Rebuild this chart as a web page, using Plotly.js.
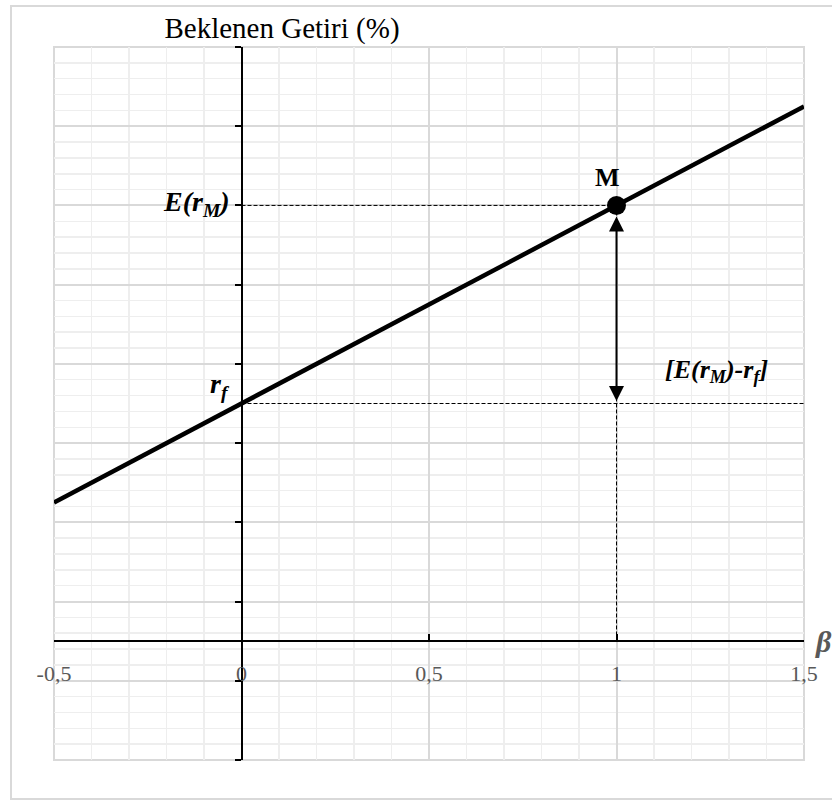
<!DOCTYPE html>
<html>
<head>
<meta charset="utf-8">
<script src="https://cdn.plot.ly/plotly-3.0.1.min.js"></script>
<style>
  html, body { margin: 0; padding: 0; background: #fff; }
  #plot { width: 832px; height: 801px; }
</style>
</head>
<body>
<div id="plot"></div>
<script>
// values
const betaRange = [-0.5, 1.5];
const returnRange = [-1.5, 7.5];
const betaTicks = [-0.5, 0, 0.5, 1, 1.5];
const betaTickText = ['-0,5', '0', '0,5', '1', '1,5'];
const smlBeta = [-0.5, 1.5];
const smlReturn = [1.75, 6.75];
const riskFree = 3;
const marketBeta = 1;
const marketReturn = 5.5;

const serif = 'Liberation Serif, Times New Roman, serif';
const guideLine = { color: '#000', width: 1, dash: '4px,2px' };

// axes cross at beta 0 / return 0
const xCross = (0 - betaRange[0]) / (betaRange[1] - betaRange[0]);
const yCross = (0 - returnRange[0]) / (returnRange[1] - returnRange[0]);

const traces = [
    {
        x: [0, marketBeta],
        y: [marketReturn, marketReturn],
        mode: 'lines',
        line: guideLine,
        hoverinfo: 'skip',
    },
    {
        x: [0, betaRange[1]],
        y: [riskFree, riskFree],
        mode: 'lines',
        line: guideLine,
        hoverinfo: 'skip',
    },
    {
        x: [marketBeta, marketBeta],
        y: [marketReturn, 0],
        mode: 'lines',
        line: guideLine,
        hoverinfo: 'skip',
    },
    {
        x: smlBeta,
        y: smlReturn,
        mode: 'lines',
        line: { color: '#000', width: 4.5 },
    },
    {
        x: [marketBeta],
        y: [marketReturn],
        mode: 'markers',
        marker: { color: '#000', size: 19 },
    },
];

const labelFont = { family: serif, size: 26, color: '#000' };

const layout = {
    width: 832,
    height: 801,
    margin: { l: 54, r: 28, t: 47, b: 41 },
    paper_bgcolor: '#fff',
    plot_bgcolor: '#fff',
    showlegend: false,
    title: {
        text: 'Beklenen Getiri (%)',
        font: { family: serif, size: 29, color: '#000' },
        x: 282 / 832,
        xanchor: 'center',
        xref: 'container',
        y: 1 - 28 / 801,
        yanchor: 'middle',
    },
    xaxis: {
        range: betaRange,
        anchor: 'free',
        position: yCross,
        tickvals: betaTicks,
        ticktext: betaTickText,
        ticks: 'inside',
        ticklen: 6,
        tickwidth: 2,
        tickcolor: '#000',
        ticklabelstandoff: 12,
        tickfont: { family: serif, size: 22, color: '#595959' },
        showline: true,
        linecolor: '#000',
        linewidth: 2,
        zeroline: false,
        showgrid: true,
        gridcolor: '#d9d9d9',
        gridwidth: 2,
        minor: { tick0: -0.5, dtick: 0.1, showgrid: true, gridcolor: '#eeeeee', gridwidth: 1.5 },
        fixedrange: true,
    },
    yaxis: {
        range: returnRange,
        anchor: 'free',
        position: xCross,
        tick0: -1.5,
        dtick: 1,
        ticks: 'outside',
        ticklen: 6,
        tickwidth: 2,
        tickcolor: '#000',
        showticklabels: false,
        showline: true,
        linecolor: '#000',
        linewidth: 2,
        zeroline: false,
        showgrid: true,
        gridcolor: '#d9d9d9',
        gridwidth: 2,
        minor: { tick0: -1.5, dtick: 0.2, showgrid: true, gridcolor: '#eeeeee', gridwidth: 1.5 },
        fixedrange: true,
    },
    shapes: [
        {
            type: 'rect', xref: 'x domain', yref: 'y domain',
            x0: 0, x1: 1, y0: 0, y1: 1,
            line: { color: '#d9d9d9', width: 2 }, layer: 'below',
        },
        {
            type: 'rect', xref: 'paper', yref: 'paper',
            x0: (11 - 54) / 750, x1: 1.2, y0: (760 - 799) / 713, y1: (760 - 6) / 713,
            line: { color: '#d9d9d9', width: 2 }, layer: 'below',
        },
    ],
    annotations: [
        {
            x: marketBeta, y: marketReturn, ax: marketBeta, ay: riskFree,
            xref: 'x', yref: 'y', axref: 'x', ayref: 'y',
            text: '', showarrow: true,
            arrowside: 'end+start', arrowhead: 2, startarrowhead: 2,
            arrowsize: 1.5, startarrowsize: 1.5, arrowwidth: 2, arrowcolor: '#000',
            standoff: 11, startstandoff: 1,
        },
        {
            x: marketBeta, y: marketReturn, xref: 'x', yref: 'y',
            text: '<b>M</b>', showarrow: false,
            font: labelFont, xshift: -9, yshift: 28,
        },
        {
            x: 0, y: marketReturn, xref: 'x', yref: 'y',
            text: '<b><i>E(r<sub>M</sub>)</i></b>', showarrow: false,
            font: { family: serif, size: 28, color: '#000' },
            xanchor: 'right', xshift: -10, yshift: 2,
        },
        {
            x: 0, y: riskFree, xref: 'x', yref: 'y',
            text: '<b><i>r<sub>f</sub></i></b>', showarrow: false,
            font: { family: serif, size: 28, color: '#000' },
            xanchor: 'right', xshift: -10, yshift: 18,
        },
        {
            x: marketBeta, y: riskFree, xref: 'x', yref: 'y',
            text: '<b><i>[E(r<sub>M</sub>)-r<sub>f</sub>]</i></b>', showarrow: false,
            font: labelFont, xanchor: 'left', xshift: 46, yshift: 33,
        },
        {
            x: betaRange[1], y: 0, xref: 'x', yref: 'y',
            text: '<b><i>β</i></b>', showarrow: false,
            font: { family: serif, size: 30, color: '#595959' },
            xanchor: 'left', xshift: 9, yshift: 0,
        },
    ],
};

Plotly.newPlot('plot', traces, layout, { displayModeBar: false, staticPlot: true });
</script>
</body>
</html>
